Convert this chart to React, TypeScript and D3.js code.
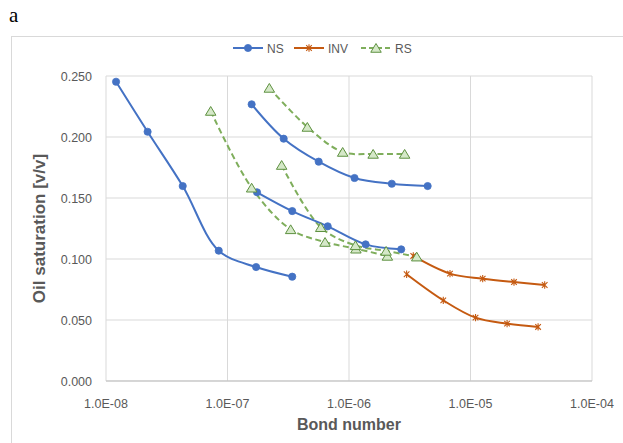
import React from 'react';
import * as d3 from 'd3';

// NS: three separate runs (Bond number, oil saturation)
const nsRun1X = [1.21e-8, 2.2e-8, 4.28e-8, 8.47e-8, 1.72e-7, 3.41e-7];
const nsRun1Y = [0.2453, 0.2043, 0.1598, 0.1068, 0.0934, 0.0855];
const nsRun2X = [1.58e-7, 2.9e-7, 5.63e-7, 1.11e-6, 2.25e-6, 4.44e-6];
const nsRun2Y = [0.2268, 0.1986, 0.1798, 0.1664, 0.1617, 0.1598];
const nsRun3X = [1.75e-7, 3.41e-7, 6.68e-7, 1.37e-6, 2.69e-6];
const nsRun3Y = [0.1547, 0.1393, 0.1268, 0.112, 0.1079];

// INV
const invRun1X = [3.38e-6, 6.78e-6, 1.26e-5, 2.28e-5, 4.08e-5];
const invRun1Y = [0.1025, 0.088, 0.0839, 0.0811, 0.0787];
const invRun2X = [2.98e-6, 5.97e-6, 1.1e-5, 2.0e-5, 3.6e-5];
const invRun2Y = [0.0875, 0.0661, 0.0519, 0.047, 0.0443];

// RS
const rsRun1X = [7.27e-8, 1.58e-7, 3.31e-7, 6.35e-7, 1.14e-6, 2.07e-6];
const rsRun1Y = [0.2213, 0.1584, 0.1243, 0.1139, 0.1084, 0.1025];
const rsRun2X = [2.79e-7, 5.85e-7, 1.13e-6, 2.02e-6, 3.61e-6];
const rsRun2Y = [0.177, 0.126, 0.1112, 0.1066, 0.1019];
const rsRun3X = [2.21e-7, 4.54e-7, 8.87e-7, 1.58e-6, 2.87e-6];
const rsRun3Y = [0.2402, 0.2082, 0.1877, 0.1861, 0.1861];

const xTicks = [1e-8, 1e-7, 1e-6, 1e-5, 1e-4];
const yTicks = [0, 0.05, 0.1, 0.15, 0.2, 0.25];

const legendNames = ['NS', 'INV', 'RS'];

const NS_COLOR = '#4472C4';
const INV_COLOR = '#C55A11';
const RS_LINE = '#7FAE5C';
const RS_MARK = '#5E9140';
const TEXT = '#595959';
const FONT = '"Liberation Sans", Arial, sans-serif';

const zip = (xs: number[], ys: number[]) => xs.map((x, i) => [x, ys[i]] as [number, number]);

const nsRuns = [zip(nsRun1X, nsRun1Y), zip(nsRun2X, nsRun2Y), zip(nsRun3X, nsRun3Y)];
const invRuns = [zip(invRun1X, invRun1Y), zip(invRun2X, invRun2Y)];
const rsRuns = [zip(rsRun1X, rsRun1Y), zip(rsRun2X, rsRun2Y), zip(rsRun3X, rsRun3Y)];

const starPath = (s: number) =>
	`M${-s},${-s}L${s},${s}M${-s},${s}L${s},${-s}M0,${-s * 1.3}L0,${s * 1.3}`;
const triPath = (s: number) => `M0,${-s}L${s * 1.05},${s * 0.75}L${-s * 1.05},${s * 0.75}Z`;

export default function App() {
	const left = 106;
	const right = 592;
	const top = 76;
	const bottom = 381;

	const x = d3.scaleLog().domain([1e-8, 1e-4]).range([left, right]);
	const y = d3.scaleLinear().domain([0, 0.25]).range([bottom, top]);

	const line = d3
		.line<[number, number]>()
		.x((d) => x(d[0]))
		.y((d) => y(d[1]))
		.curve(d3.curveCatmullRom.alpha(0.5));

	const fmtX = (v: number) => {
		const e = Math.round(Math.log10(v));
		return `1.0E${e < 0 ? '-' : '+'}${String(Math.abs(e)).padStart(2, '0')}`;
	};

	const NSMark = ({ cx, cy }: { cx: number; cy: number }) => (
		<circle cx={cx} cy={cy} r={3.6} fill={NS_COLOR} stroke={NS_COLOR} strokeWidth={0.8} />
	);
	const INVMark = ({ cx, cy }: { cx: number; cy: number }) => (
		<path d={starPath(2.8)} transform={`translate(${cx},${cy})`} stroke={INV_COLOR} strokeWidth={1.1} fill="none" />
	);
	const RSMark = ({ cx, cy }: { cx: number; cy: number }) => (
		<path d={triPath(5)} transform={`translate(${cx},${cy + 0.5})`} fill="#D5E8C8" stroke={RS_MARK} strokeWidth={1} />
	);

	const legendX = [233, 294, 361];
	const legendY = 48;

	return (
		<svg
			width={623}
			height={443}
			style={{ position: 'absolute', left: 0, top: 0, background: '#fff' }}>
			<text x={9} y={22} fontFamily='"Liberation Serif", "Times New Roman", serif' fontSize={21} fill="#000">
				a
			</text>
			<rect x={11.5} y={36.5} width={640} height={420} fill="none" stroke="#D9D9D9" strokeWidth={1} />

			{/* grid */}
			{yTicks.map((t) => (
				<line key={'gy' + t} x1={left} x2={right} y1={y(t)} y2={y(t)} stroke="#D9D9D9" strokeWidth={1} />
			))}
			{xTicks.map((t) => (
				<line key={'gx' + t} x1={x(t)} x2={x(t)} y1={top} y2={bottom} stroke="#D9D9D9" strokeWidth={1} />
			))}
			<line x1={left} x2={right} y1={bottom} y2={bottom} stroke="#BFBFBF" strokeWidth={1} />

			{/* tick labels */}
			{yTicks.map((t) => (
				<text key={'ty' + t} x={left - 14} y={y(t) + 4.5} textAnchor="end" fontFamily={FONT} fontSize={12.5} fill={TEXT}>
					{d3.format('.3f')(t)}
				</text>
			))}
			{xTicks.map((t) => (
				<text key={'tx' + t} x={x(t)} y={bottom + 27} textAnchor="middle" fontFamily={FONT} fontSize={12.5} fill={TEXT}>
					{fmtX(t)}
				</text>
			))}

			<text x={(left + right) / 2} y={430} textAnchor="middle" fontFamily={FONT} fontSize={16} fontWeight="bold" fill={TEXT}>
				Bond number
			</text>
			<text
				transform={`translate(45, ${(top + bottom) / 2}) rotate(-90)`}
				textAnchor="middle"
				fontFamily={FONT}
				fontSize={17}
				fontWeight="bold"
				fill={TEXT}>
				Oil saturation [v/v]
			</text>

			{/* series */}
			{rsRuns.map((run, i) => (
				<path key={'rs' + i} d={line(run) || ''} fill="none" stroke={RS_LINE} strokeWidth={2} strokeDasharray="6 3.5" />
			))}
			{nsRuns.map((run, i) => (
				<path key={'ns' + i} d={line(run) || ''} fill="none" stroke={NS_COLOR} strokeWidth={2} />
			))}
			{invRuns.map((run, i) => (
				<path key={'inv' + i} d={line(run) || ''} fill="none" stroke={INV_COLOR} strokeWidth={2} />
			))}
			{nsRuns.flat().map((d, i) => (
				<NSMark key={'nm' + i} cx={x(d[0])} cy={y(d[1])} />
			))}
			{invRuns.flat().map((d, i) => (
				<INVMark key={'im' + i} cx={x(d[0])} cy={y(d[1])} />
			))}
			{rsRuns.flat().map((d, i) => (
				<RSMark key={'rm' + i} cx={x(d[0])} cy={y(d[1])} />
			))}

			{/* legend */}
			<g>
				<line x1={legendX[0]} x2={legendX[0] + 30} y1={legendY} y2={legendY} stroke={NS_COLOR} strokeWidth={2} />
				<NSMark cx={legendX[0] + 15} cy={legendY} />
				<line x1={legendX[1]} x2={legendX[1] + 30} y1={legendY} y2={legendY} stroke={INV_COLOR} strokeWidth={2} />
				<INVMark cx={legendX[1] + 15} cy={legendY} />
				<line x1={legendX[2]} x2={legendX[2] + 30} y1={legendY} y2={legendY} stroke={RS_LINE} strokeWidth={2} strokeDasharray="5 3" />
				<RSMark cx={legendX[2] + 15} cy={legendY} />
				{legendNames.map((n, i) => (
					<text key={n} x={legendX[i] + 34} y={legendY + 4.5} fontFamily={FONT} fontSize={12} fill={TEXT}>
						{n}
					</text>
				))}
			</g>
		</svg>
	);
}
